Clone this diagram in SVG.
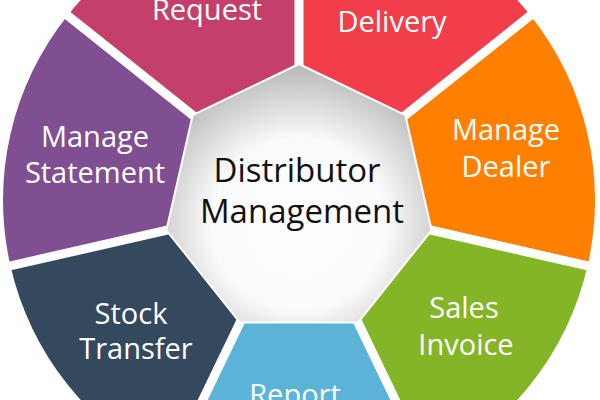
<svg xmlns="http://www.w3.org/2000/svg" width="600" height="400" viewBox="0 0 600 400">
  <defs>
    <radialGradient id="hex" cx="50%" cy="62%" r="60%">
      <stop offset="0" stop-color="#ffffff"/>
      <stop offset="0.55" stop-color="#fbfbfb"/>
      <stop offset="1" stop-color="#bcbcbc"/>
    </radialGradient>
  </defs>
  <style>
    .lbl { font-family: "Open Sans", "DejaVu Sans", sans-serif; font-size: 29px; fill: #ffffff; text-anchor: middle; }
    .ctr { font-family: "Open Sans", "DejaVu Sans", sans-serif; font-size: 33px; fill: #111111; text-anchor: middle; }
    .sep { stroke: #ffffff; stroke-width: 9; fill: none; }
  </style>
  <rect width="600" height="400" fill="#ffffff"/>

  <g id="delivery">
    <path d="M299 200 L299 -96 A296 296 0 0 1 530.42 15.45 Z" fill="#F23E4B"/>
    <text class="lbl" x="392" y="32">Delivery</text>
  </g>
  <g id="manage-dealer">
    <path d="M299 200 L530.42 15.45 A296 296 0 0 1 587.58 265.87 Z" fill="#FF8000"/>
    <text class="lbl" x="506" y="140">Manage</text>
    <text class="lbl" x="506" y="177">Dealer</text>
  </g>
  <g id="sales-invoice">
    <path d="M299 200 L587.58 265.87 A296 296 0 0 1 427.43 466.69 Z" fill="#84B526"/>
    <text class="lbl" x="464" y="318">Sales</text>
    <text class="lbl" x="466" y="355">Invoice</text>
  </g>
  <g id="report">
    <path d="M299 200 L427.43 466.69 A296 296 0 0 1 170.57 466.69 Z" fill="#5BB4D7"/>
    <text class="lbl" x="295" y="405">Report</text>
  </g>
  <g id="stock-transfer">
    <path d="M299 200 L170.57 466.69 A296 296 0 0 1 10.42 265.87 Z" fill="#34495E"/>
    <text class="lbl" x="131" y="324">Stock</text>
    <text class="lbl" x="136" y="359">Transfer</text>
  </g>
  <g id="manage-statement">
    <path d="M299 200 L10.42 265.87 A296 296 0 0 1 67.58 15.45 Z" fill="#7F4F91"/>
    <text class="lbl" x="95" y="147">Manage</text>
    <text class="lbl" x="95" y="183">Statement</text>
  </g>
  <g id="request">
    <path d="M299 200 L67.58 15.45 A296 296 0 0 1 299 -96 Z" fill="#C4406B"/>
    <text class="lbl" x="207" y="20">Request</text>
  </g>

  <g id="separators">
    <line class="sep" x1="299" y1="200" x2="299" y2="-110"/>
    <line class="sep" x1="299" y1="200" x2="541.37" y2="6.72"/>
    <line class="sep" x1="299" y1="200" x2="601.23" y2="268.98"/>
    <line class="sep" x1="299" y1="200" x2="433.50" y2="479.30"/>
    <line class="sep" x1="299" y1="200" x2="164.50" y2="479.30"/>
    <line class="sep" x1="299" y1="200" x2="-3.23" y2="268.98"/>
    <line class="sep" x1="299" y1="200" x2="56.63" y2="6.72"/>
  </g>

  <g id="distributor-management">
    <polygon points="299,64 405.33,115.21 431.59,230.26 358.01,322.53 239.99,322.53 166.41,230.26 192.67,115.21" fill="url(#hex)" stroke="#ffffff" stroke-width="2" stroke-linejoin="round"/>
    <text class="ctr" x="297" y="182">Distributor</text>
    <text class="ctr" x="302" y="223">Management</text>
  </g>
</svg>
